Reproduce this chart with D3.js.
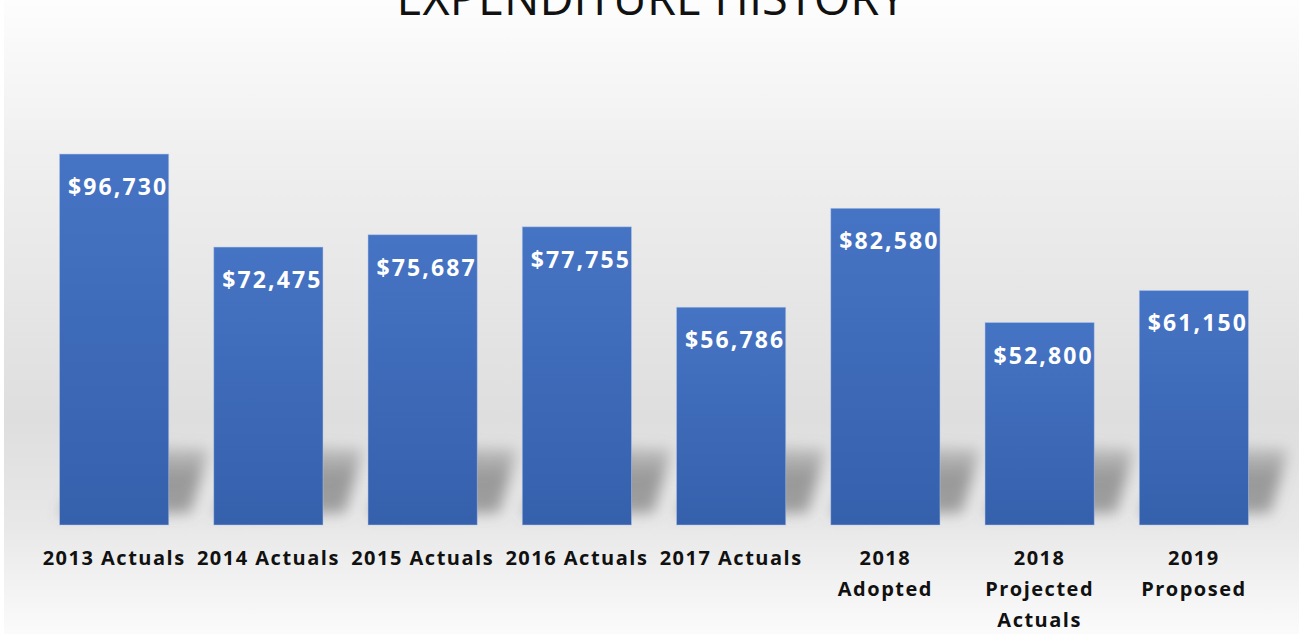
<!DOCTYPE html>
<html>
<head>
<meta charset="utf-8">
<script src="https://cdn.jsdelivr.net/npm/d3@7"></script>
<style>
  html, body { margin: 0; padding: 0; background: #ffffff; }
  svg { display: block; }
</style>
</head>
<body>
<svg id="chart" width="1299" height="634"></svg>
<script>
// Expenditure by budget period
const categories = [
  ["2013 Actuals"],
  ["2014 Actuals"],
  ["2015 Actuals"],
  ["2016 Actuals"],
  ["2017 Actuals"],
  ["2018", "Adopted"],
  ["2018", "Projected", "Actuals"],
  ["2019", "Proposed"]
];
const values = [96730, 72475, 75687, 77755, 56786, 82580, 52800, 61150];
const valueLabels = ["$96,730", "$72,475", "$75,687", "$77,755", "$56,786", "$82,580", "$52,800", "$61,150"];
const title = "EXPENDITURE HISTORY";

const W = 1299, H = 634;
const svg = d3.select("#chart");
const defs = svg.append("defs");

// Background: soft vertical grey wash
const bg = defs.append("linearGradient").attr("id", "bgGrad")
  .attr("x1", 0).attr("y1", 0).attr("x2", 0).attr("y2", 1);
[[0, "#fdfdfd"], [0.25, "#efefef"], [0.66, "#dedede"], [0.83, "#e8e8e8"], [1, "#fbfbfb"]]
  .forEach(([o, c]) => bg.append("stop").attr("offset", o).attr("stop-color", c));

// Bar fill: lighter blue at the top, deeper at the base
const barGrad = defs.append("linearGradient").attr("id", "barGrad")
  .attr("x1", 0).attr("y1", 0).attr("x2", 0).attr("y2", 1);
barGrad.append("stop").attr("offset", 0).attr("stop-color", "#4674c4");
barGrad.append("stop").attr("offset", 1).attr("stop-color", "#3560ac");

// Shadow fill: darkest near the floor line, fading as it recedes
const shGrad = defs.append("linearGradient").attr("id", "shGrad")
  .attr("x1", 0).attr("y1", 1).attr("x2", 0).attr("y2", 0);
shGrad.append("stop").attr("offset", 0).attr("stop-color", "#707070").attr("stop-opacity", 0.6);
shGrad.append("stop").attr("offset", 0.55).attr("stop-color", "#707070").attr("stop-opacity", 0.65);
shGrad.append("stop").attr("offset", 1).attr("stop-color", "#808080").attr("stop-opacity", 0.3);

const blur = defs.append("filter").attr("id", "shadowBlur")
  .attr("x", "-50%").attr("y", "-50%").attr("width", "200%").attr("height", "200%");
blur.append("feGaussianBlur").attr("stdDeviation", 7);

svg.append("rect").attr("x", 0).attr("y", 0).attr("width", W).attr("height", H).attr("fill", "#ffffff");
svg.append("rect").attr("x", 4).attr("y", 0).attr("width", W - 4).attr("height", H).attr("fill", "url(#bgGrad)");

const x = d3.scaleBand()
  .domain(d3.range(categories.length))
  .range([37, 1271])
  .paddingInner(0.292)
  .paddingOuter(0.146);

const y = d3.scaleLinear().domain([0, 100000]).range([525, 141.5]);

const bw = x.bandwidth();
const base = y(0);

// Soft floor shadows: each bar's footprint leaning back and to the right
const shadows = svg.append("g").attr("filter", "url(#shadowBlur)");
values.forEach((v, i) => {
  const x0 = x(i), x1 = x(i) + bw;
  shadows.append("path")
    .attr("d", `M${x0},${base - 10} L${x1 + 22},${base - 12} L${x1 + 40},${base - 76} L${x0 + 40},${base - 80} Z`)
    .attr("fill", "url(#shGrad)");
});

// Bars
svg.append("g").selectAll("rect")
  .data(values)
  .join("rect")
  .attr("x", (d, i) => x(i))
  .attr("y", d => y(d))
  .attr("width", bw)
  .attr("height", d => base - y(d))
  .attr("fill", "url(#barGrad)")
  .attr("stroke", "rgba(180,200,235,0.6)")
  .attr("stroke-width", 0.8);

// Value labels inside the top of each bar
svg.append("g").selectAll("text")
  .data(values)
  .join("text")
  .attr("x", (d, i) => x(i) + bw / 2 + 4)
  .attr("y", d => y(d) + 41)
  .attr("text-anchor", "middle")
  .attr("fill", "#ffffff")
  .attr("font-family", "'Open Sans', sans-serif")
  .attr("font-weight", 700)
  .attr("font-size", 23)
  .attr("letter-spacing", 2.1)
  .text((d, i) => valueLabels[i]);

// Category labels under the bars
const cat = svg.append("g").selectAll("text")
  .data(categories)
  .join("text")
  .attr("x", (d, i) => x(i) + bw / 2)
  .attr("y", 565)
  .attr("text-anchor", "middle")
  .attr("fill", "#111111")
  .attr("font-family", "'Open Sans', sans-serif")
  .attr("font-weight", 700)
  .attr("font-size", 20)
  .attr("letter-spacing", 1.5);
cat.each(function(lines, i) {
  const t = d3.select(this);
  lines.forEach((ln, k) => {
    t.append("tspan").attr("x", x(i) + bw / 2).attr("dy", k === 0 ? 0 : 31).text(ln);
  });
});

// Title (partly above the visible edge)
svg.append("text")
  .attr("x", 651)
  .attr("y", 15)
  .attr("text-anchor", "middle")
  .attr("fill", "#111111")
  .attr("font-family", "'Open Sans', sans-serif")
  .attr("font-size", 47)
  .text(title);
</script>
</body>
</html>
